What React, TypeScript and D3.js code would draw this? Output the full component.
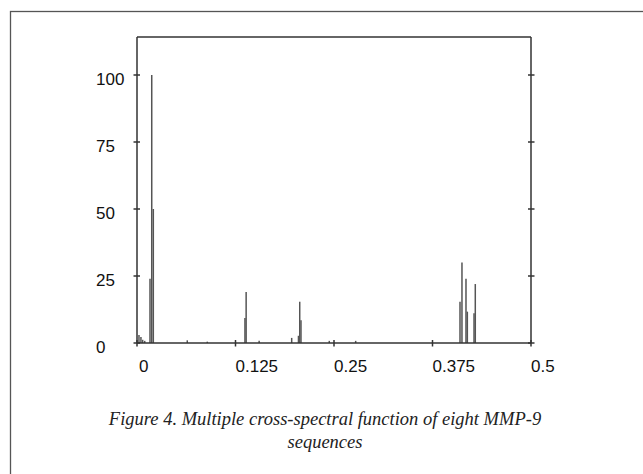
import * as d3 from 'd3';

const width = 643;
const height = 474;
const [mt, mr, mb, ml] = [37, 112, 131, 137];

// spectrum peaks
const peakFreq = [
    0.0025, 0.005, 0.0072, 0.0098, 0.0165, 0.0187, 0.0207, 0.0638, 0.0892, 0.137, 0.1385, 0.155,
    0.1963, 0.2049, 0.2065, 0.2081, 0.244, 0.2775, 0.4099, 0.4124, 0.4175, 0.4192, 0.4277, 0.4293
];
const peakValue = [
    3, 2.2, 1.2, 0.8, 24, 100, 50, 1, 0.5, 9.3, 19, 0.8, 1.9, 2.7, 15.4, 8.5, 0.8, 0.8, 15.4, 30, 24,
    11.7, 11.1, 22
];

const xTicks = [0, 0.125, 0.25, 0.375, 0.5];
const xTickLabels = ['0', '0.125', '0.25', '0.375', '0.5'];
const yTicks = [0, 25, 50, 75, 100];
const yTickLabels = ['0', '25', '50', '75', '100'];

const captionLines = ['Figure 4. Multiple cross-spectral function of eight MMP-9', 'sequences'];

function App() {
    const x = d3.scaleLinear().domain([0, 0.5]).range([ml, width - mr]);
    const y = d3.scaleLinear().domain([0, 100]).range([height - mb, 75]);
    const y0 = y(0);
    const top = mt;
    const axisColor = '#333';
    const font = '"Liberation Sans", Arial, sans-serif';

    return (
        <div style={{ position: 'fixed', left: 0, top: 0 }}>
            <svg width={width} height={height} style={{ display: 'block', background: '#fff' }}>
                {/* outer figure frame */}
                <rect x={10.5} y={11.5} width={700} height={500} fill="none" stroke="#555" strokeWidth={1.3} />

                {/* spikes */}
                <g stroke="#555" strokeWidth={1.5}>
                    {peakFreq.map((f, i) => (
                        <line key={i} x1={x(f)} x2={x(f)} y1={y0} y2={y(peakValue[i])} />
                    ))}
                </g>

                {/* plot box */}
                <g stroke={axisColor} strokeWidth={1.5} fill="none">
                    <line x1={x(0)} x2={x(0)} y1={top} y2={y0} />
                    <line x1={x(0.5)} x2={x(0.5)} y1={top} y2={y0} />
                    <line x1={x(0)} x2={x(0.5)} y1={top} y2={top} />
                    <line x1={x(0)} x2={x(0.5)} y1={y0} y2={y0} />
                    {yTicks.map((t) => (
                        <g key={t}>
                            <line x1={x(0) - 3.5} x2={x(0) + 3} y1={y(t)} y2={y(t)} />
                            <line x1={x(0.5) - 3} x2={x(0.5) + 3.5} y1={y(t)} y2={y(t)} />
                        </g>
                    ))}
                    {xTicks.map((t) => (
                        <line key={t} x1={x(t)} x2={x(t)} y1={y0 - 3} y2={y0 + 3.5} />
                    ))}
                </g>

                {/* tick labels */}
                <g fontFamily={font} fontSize={17} fill="#111">
                    {yTicks.map((t, i) => (
                        <text key={t} x={96} y={y(t) + 10}>
                            {yTickLabels[i]}
                        </text>
                    ))}
                    {xTicks.map((t, i) => (
                        <text key={t} x={x(t) + (i === 0 ? 2 : 0)} y={372}>
                            {xTickLabels[i]}
                        </text>
                    ))}
                </g>

                {/* caption */}
                <g fontFamily='"Liberation Serif", "Times New Roman", serif' fontStyle="italic" fontSize={18.5} fill="#222" textAnchor="middle">
                    {captionLines.map((line, i) => (
                        <text key={i} x={325} y={425 + i * 23}>
                            {line}
                        </text>
                    ))}
                </g>
            </svg>
        </div>
    );
}

export default App;
